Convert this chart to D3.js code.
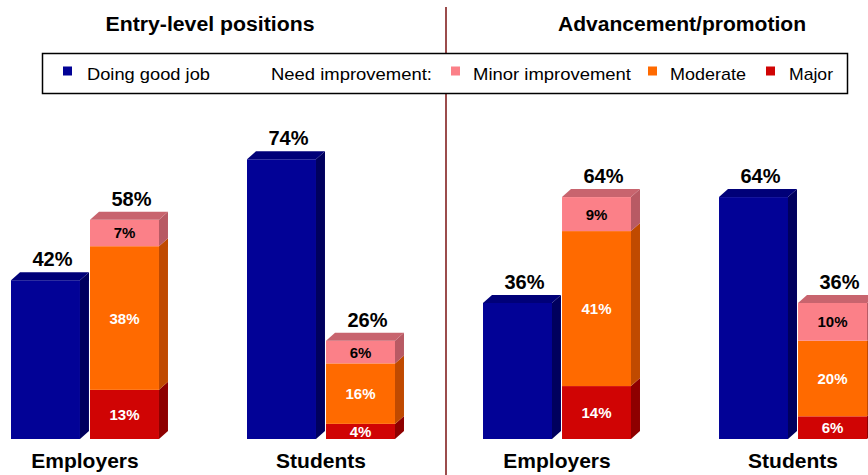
<!DOCTYPE html>
<html>
<head>
<meta charset="utf-8">
<script src="https://cdn.jsdelivr.net/npm/d3@7"></script>
<style>
  html, body { margin: 0; padding: 0; background: #ffffff; }
  svg { display: block; font-family: "Liberation Sans", Arial, Helvetica, sans-serif; }
</style>
</head>
<body>
<svg id="chart" width="868" height="475"></svg>
<script>
// ---- data ----
const sections = ["Entry-level positions", "Advancement/promotion"];
const groupIds = ["entry-emp", "entry-stu", "adv-emp", "adv-stu"];
const groupLabels = ["Employers", "Students", "Employers", "Students"];
const goodJob = [42, 74, 36, 64];
const major = [13, 4, 14, 6];
const moderate = [38, 16, 41, 20];
const minor = [7, 6, 9, 10];
const seriesKeys = ["major", "moderate", "minor"];
const legendLabels = ["Doing good job", "Need improvement:", "Minor improvement", "Moderate", "Major"];

// ---- styles ----
const colors = {
  good:     { front: "#020296", side: "#00005e", top: "#000078" },
  minor:    { front: "#fb8088", side: "#b85a64", top: "#c8646e" },
  moderate: { front: "#ff6a00", side: "#c04a00", top: "#d85a00" },
  major:    { front: "#d00404", side: "#8e0000", top: "#a80000" }
};
const labelColor = { minor: "#000000", moderate: "#ffffff", major: "#ffffff" };

const svg = d3.select("#chart");
const W = 868, H = 475;
const baseY = 439;
const dx = 9, dy = 8;

const x0 = d3.scaleBand().domain(groupIds).range([11, 867]).paddingInner(0.373).paddingOuter(0).align(0);
const x1 = d3.scaleBand().domain(["good", "improve"]).range([0, x0.bandwidth()]).paddingInner(0.127).paddingOuter(0);
const y = d3.scaleLinear().domain([0, 100]).range([baseY, baseY - 378]);

// divider
svg.append("line")
  .attr("x1", 446).attr("x2", 446).attr("y1", 7).attr("y2", H)
  .attr("stroke", "#7a1010").attr("stroke-width", 1.5);

// section titles
const titleX = [210, 682];
const titleW = [209, 248];
svg.selectAll("text.title").data(sections).join("text")
  .attr("class", "title")
  .attr("x", (d, i) => titleX[i]).attr("y", 31)
  .attr("text-anchor", "middle")
  .attr("font-size", 20).attr("font-weight", "bold").attr("fill", "#000")
  .attr("textLength", (d, i) => titleW[i]).attr("lengthAdjust", "spacingAndGlyphs")
  .text(d => d);

// legend
const lg = svg.append("g");
lg.append("rect").attr("x", 42.5).attr("y", 53.5).attr("width", 805).attr("height", 40)
  .attr("fill", "#fff").attr("stroke", "#000").attr("stroke-width", 1.5);
const legendItems = [
  { label: legendLabels[0], color: colors.good.front, sx: 63, tx: 87, tw: 123 },
  { label: legendLabels[1], color: null, sx: null, tx: 271, tw: 161 },
  { label: legendLabels[2], color: colors.minor.front, sx: 451, tx: 473, tw: 158 },
  { label: legendLabels[3], color: colors.moderate.front, sx: 648, tx: 670, tw: 76 },
  { label: legendLabels[4], color: colors.major.front, sx: 766, tx: 789, tw: 44 }
];
legendItems.forEach(it => {
  if (it.color) {
    lg.append("rect").attr("x", it.sx).attr("y", 66.5).attr("width", 9).attr("height", 9)
      .attr("fill", it.color);
  }
  lg.append("text").attr("x", it.tx).attr("y", 80)
    .attr("font-size", 17).attr("fill", "#000")
    .attr("textLength", it.tw).attr("lengthAdjust", "spacingAndGlyphs")
    .text(it.label);
});

// 3D bar drawing helper
function drawBox(g, x, yTop, yBot, w, c, withTop) {
  g.append("rect").attr("x", x).attr("y", yTop).attr("width", w).attr("height", yBot - yTop)
    .attr("fill", c.front);
  g.append("polygon")
    .attr("points", [[x + w, yTop], [x + w + dx, yTop - dy], [x + w + dx, yBot - dy], [x + w, yBot]].map(p => p.join(",")).join(" "))
    .attr("fill", c.side);
  if (withTop) {
    g.append("polygon")
      .attr("points", [[x, yTop], [x + dx, yTop - dy], [x + w + dx, yTop - dy], [x + w, yTop]].map(p => p.join(",")).join(" "))
      .attr("fill", c.top);
  }
}

const segData = { major, moderate, minor };
const bw = x1.bandwidth();

groupIds.forEach((gid, i) => {
  const g = svg.append("g");
  // good job bar
  const xb = x0(gid) + x1("good");
  drawBox(g, xb, y(goodJob[i]), y(0), bw, colors.good, true);
  g.append("text").attr("x", xb + bw / 2 + 7).attr("y", y(goodJob[i]) - 14)
    .attr("text-anchor", "middle").attr("font-size", 20).attr("font-weight", "bold")
    .text(goodJob[i] + "%");

  // stacked improvement bar
  const xs = x0(gid) + x1("improve");
  let cum = 0;
  const segs = seriesKeys.map(k => {
    const s = { key: k, v: segData[k][i], y0: cum, y1: cum + segData[k][i] };
    cum += segData[k][i];
    return s;
  });
  segs.forEach((s, j) => {
    drawBox(g, xs, y(s.y1), y(s.y0), bw, colors[s.key], j === segs.length - 1);
  });
  segs.forEach(s => {
    g.append("text").attr("x", xs + bw / 2).attr("y", (y(s.y0) + y(s.y1)) / 2 + 5.5)
      .attr("text-anchor", "middle").attr("font-size", 15).attr("font-weight", "bold")
      .attr("fill", labelColor[s.key]).text(s.v + "%");
  });
  g.append("text").attr("x", xs + bw / 2 + 7).attr("y", y(cum) - 14)
    .attr("text-anchor", "middle").attr("font-size", 20).attr("font-weight", "bold")
    .text(cum + "%");

  // category label
  svg.append("text").attr("x", x0(gid) + x0.bandwidth() / 2).attr("y", 468)
    .attr("text-anchor", "middle").attr("font-size", 21).attr("font-weight", "bold")
    .text(groupLabels[i]);
});
</script>
</body>
</html>
